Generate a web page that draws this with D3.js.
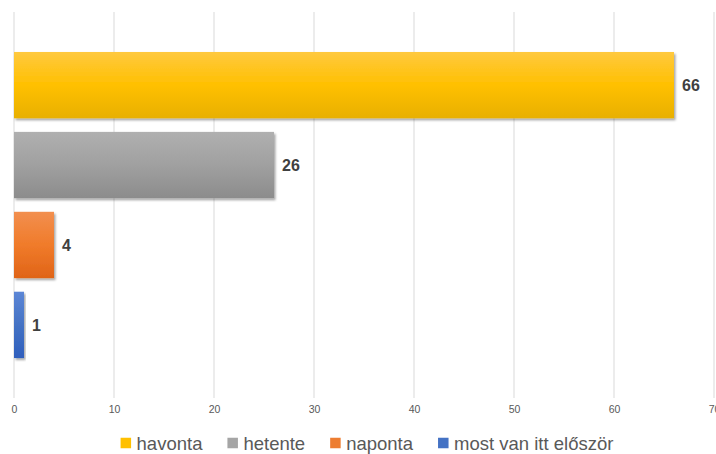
<!DOCTYPE html>
<html>
<head>
<meta charset="utf-8">
<script src="https://cdn.jsdelivr.net/npm/d3@7"></script>
<style>
  body { margin: 0; background: #fff; }
  svg { display: block; font-family: "Liberation Sans", Arial, sans-serif; }
</style>
</head>
<body>
<div id="chart"></div>
<script>
// data
var categories = ["havonta", "hetente", "naponta", "most van itt először"];
var values = [66, 26, 4, 1];
var xTicks = [0, 10, 20, 30, 40, 50, 60, 70];

// colours: [top, middle, bottom] of each bar's gradient, plus legend swatch
var grads = [
  ["#ffc93f", "#ffc000", "#e8b000"],
  ["#b0b0b0", "#a0a0a0", "#8c8c8c"],
  ["#f28f4f", "#f07b2a", "#e06418"],
  ["#5c86d6", "#4472c4", "#2f5fbd"]
];
var swatch = ["#ffc000", "#a5a5a5", "#ed7d31", "#4472c4"];

var W = 716, H = 454;
var margin = {top: 12, left: 14, right: 2, bottom: 56};

var svg = d3.select("#chart").append("svg")
    .attr("width", W)
    .attr("height", H);

var defs = svg.append("defs");

grads.forEach(function(g, i){
  var lg = defs.append("linearGradient")
      .attr("id", "grad" + i)
      .attr("x1", 0).attr("y1", 0).attr("x2", 0).attr("y2", 1);
  lg.append("stop").attr("offset", "0%").attr("stop-color", g[0]);
  lg.append("stop").attr("offset", "50%").attr("stop-color", g[1]);
  lg.append("stop").attr("offset", "100%").attr("stop-color", g[2]);
});

var shadow = defs.append("filter")
    .attr("id", "shadow")
    .attr("x", "-10%").attr("y", "-10%")
    .attr("width", "130%").attr("height", "130%");
shadow.append("feDropShadow")
    .attr("dx", 1.5).attr("dy", 2)
    .attr("stdDeviation", 1.3)
    .attr("flood-color", "#000")
    .attr("flood-opacity", 0.35);

var x = d3.scaleLinear()
    .domain([0, 70])
    .range([margin.left, 714]);

var y = d3.scaleBand()
    .domain(categories)
    .range([margin.top, H - margin.bottom])
    .paddingInner(0.17)
    .paddingOuter(0.5);

// gridlines
svg.append("g")
  .selectAll("line")
  .data(xTicks)
  .enter().append("line")
    .attr("x1", function(d){ return x(d); })
    .attr("x2", function(d){ return x(d); })
    .attr("y1", margin.top)
    .attr("y2", H - margin.bottom)
    .attr("stroke", "#d9d9d9")
    .attr("stroke-width", 1);

// axis labels
var xAxis = d3.axisBottom(x).tickValues(xTicks).tickSize(0).tickPadding(0);
var ax = svg.append("g")
    .attr("transform", "translate(0," + 406 + ")")
    .call(xAxis);
ax.select(".domain").remove();
ax.selectAll("text")
    .attr("fill", "#595959")
    .style("font-size", "10.5px")
    .style("font-family", "'Liberation Sans', Arial, sans-serif");

// bars
svg.append("g")
  .selectAll("rect")
  .data(values)
  .enter().append("rect")
    .attr("x", x(0))
    .attr("y", function(d, i){ return y(categories[i]); })
    .attr("width", function(d){ return x(d) - x(0); })
    .attr("height", y.bandwidth())
    .attr("fill", function(d, i){ return "url(#grad" + i + ")"; })
    .attr("filter", "url(#shadow)");

// value labels
svg.append("g")
  .selectAll("text")
  .data(values)
  .enter().append("text")
    .attr("x", function(d){ return x(d) + 8; })
    .attr("y", function(d, i){ return y(categories[i]) + y.bandwidth() / 2; })
    .attr("dy", "0.36em")
    .attr("fill", "#404040")
    .style("font-size", "16px")
    .style("font-weight", "bold")
    .text(function(d){ return d; });

// legend
var legend = svg.append("g");
var items = legend.selectAll("g")
  .data(categories)
  .enter().append("g");

items.append("rect")
    .attr("width", 10.5)
    .attr("height", 10.5)
    .attr("y", -5.25)
    .attr("fill", function(d, i){ return swatch[i]; });

items.append("text")
    .attr("x", 16)
    .attr("dy", "0.36em")
    .attr("fill", "#595959")
    .style("font-size", "18.5px")
    .text(function(d){ return d; });

var pos = 0;
var offsets = [];
items.each(function(){
  var tw = d3.select(this).select("text").node().getComputedTextLength();
  offsets.push(pos);
  pos += 16 + tw + 25;
});
var total = pos - 25;
var startX = 367 - total / 2;
items.attr("transform", function(d, i){ return "translate(" + (startX + offsets[i]) + ",443)"; });
</script>
</body>
</html>
